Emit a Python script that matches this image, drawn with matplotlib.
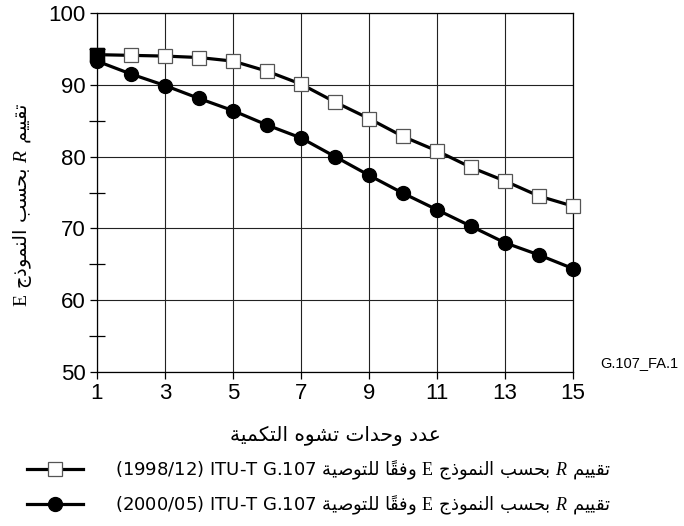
import matplotlib
matplotlib.use("Agg")
import matplotlib.pyplot as plt
from matplotlib.ticker import MultipleLocator

# ---------------- data ----------------
units = [1, 2, 3, 4, 5, 6, 7, 8, 9, 10, 11, 12, 13, 14, 15]
r_1998 = [94.2, 94.1, 94.0, 93.8, 93.3, 91.9, 90.1, 87.6, 85.3, 82.8, 80.8, 78.5, 76.6, 74.5, 73.1]
r_2000 = [93.3, 91.5, 89.9, 88.1, 86.4, 84.4, 82.6, 80.0, 77.4, 74.9, 72.6, 70.3, 68.0, 66.3, 64.4]
x_ticks = [1, 3, 5, 7, 9, 11, 13, 15]
y_ticks = [50, 60, 70, 80, 90, 100]

# ---------------- simple Arabic shaping (presentation forms) ----------------
FORMS = {
    'ا': ('\uFE8D', '\uFE8E'),
    'ب': ('\uFE8F', '\uFE90', '\uFE91', '\uFE92'),
    'ة': ('\uFE93', '\uFE94'),
    'ت': ('\uFE95', '\uFE96', '\uFE97', '\uFE98'),
    'ج': ('\uFE9D', '\uFE9E', '\uFE9F', '\uFEA0'),
    'ح': ('\uFEA1', '\uFEA2', '\uFEA3', '\uFEA4'),
    'د': ('\uFEA9', '\uFEAA'),
    'ذ': ('\uFEAB', '\uFEAC'),
    'س': ('\uFEB1', '\uFEB2', '\uFEB3', '\uFEB4'),
    'ش': ('\uFEB5', '\uFEB6', '\uFEB7', '\uFEB8'),
    'ص': ('\uFEB9', '\uFEBA', '\uFEBB', '\uFEBC'),
    'ع': ('\uFEC9', '\uFECA', '\uFECB', '\uFECC'),
    'ف': ('\uFED1', '\uFED2', '\uFED3', '\uFED4'),
    'ق': ('\uFED5', '\uFED6', '\uFED7', '\uFED8'),
    'ك': ('\uFED9', '\uFEDA', '\uFEDB', '\uFEDC'),
    'ل': ('\uFEDD', '\uFEDE', '\uFEDF', '\uFEE0'),
    'م': ('\uFEE1', '\uFEE2', '\uFEE3', '\uFEE4'),
    'ن': ('\uFEE5', '\uFEE6', '\uFEE7', '\uFEE8'),
    'ه': ('\uFEE9', '\uFEEA', '\uFEEB', '\uFEEC'),
    'و': ('\uFEED', '\uFEEE'),
    'ي': ('\uFEF1', '\uFEF2', '\uFEF3', '\uFEF4'),
}


def shape_word(word):
    letters = [i for i, c in enumerate(word) if c in FORMS]
    clusters = []
    for k, i in enumerate(letters):
        c = word[i]
        f = FORMS[c]
        prev_c = word[letters[k - 1]] if k > 0 else None
        next_c = word[letters[k + 1]] if k + 1 < len(letters) else None
        jp = prev_c is not None and len(FORMS[prev_c]) == 4
        jn = next_c is not None and len(f) == 4
        if jp and jn:
            g = f[3]
        elif jp:
            g = f[1]
        elif jn:
            g = f[2]
        else:
            g = f[0]
        end = letters[k + 1] if k + 1 < len(letters) else len(word)
        marks = word[i + 1:end]
        clusters.append(g + marks)
    return ''.join(reversed(clusters))


def is_arabic(tok):
    return any(c in FORMS for c in tok)


def rtl(tokens):
    return ' '.join(shape_word(t) if is_arabic(t) else t for t in reversed(tokens))


R = r'$\mathit{R}$'
E = r'$\mathrm{E}$'
ylabel_tokens = ['تقييم', R, 'بحسب', 'النموذج', E]
xlabel_tokens = ['عدد', 'وحدات', 'تشوه', 'التكمية']
leg1_tokens = ['تقييم', R, 'بحسب', 'النموذج', E, 'وفقاً', 'للتوصية', 'ITU-T G.107', '(1998/12)']
leg2_tokens = ['تقييم', R, 'بحسب', 'النموذج', E, 'وفقاً', 'للتوصية', 'ITU-T G.107', '(2000/05)']
fig_id = 'G.107_FA.1'

# ---------------- styling ----------------
plt.rcParams['mathtext.fontset'] = 'custom'
plt.rcParams['mathtext.rm'] = 'Liberation Serif'
plt.rcParams['mathtext.it'] = 'Liberation Serif:italic'
plt.rcParams['mathtext.bf'] = 'Liberation Serif:bold'

W, H = 684, 526
fig = plt.figure(figsize=(W / 100, H / 100), dpi=100)
ax = fig.add_axes([97 / W, 1 - 372 / H, (573 - 97) / W, (372 - 13) / H])

ax.set_xlim(1, 15)
ax.set_ylim(50, 100)
ax.set_xticks(x_ticks)
ax.set_yticks(y_ticks)
ax.yaxis.set_minor_locator(MultipleLocator(5))
ax.grid(True, which='major', color='#222222', linewidth=0.8)
for s in ax.spines.values():
    s.set_color('black')
    s.set_linewidth(0.9)
ax.tick_params(axis='both', which='major', direction='out', length=5, width=0.9,
               labelsize=16, pad=3)
ax.tick_params(axis='y', which='minor', direction='inout', length=11, width=0.9)
for lab in ax.get_xticklabels() + ax.get_yticklabels():
    lab.set_family('Liberation Sans')

line98, = ax.plot(units, r_1998, color='black', lw=2.3, marker='s', markersize=9.5,
                  markerfacecolor='white', markeredgecolor='#555555', markeredgewidth=0.9,
                  clip_on=False, zorder=3)
ax.plot(units[:1], r_1998[:1], ls='none', marker='s', markersize=9.5,
        markerfacecolor='black', markeredgecolor='black', clip_on=False, zorder=3)
line00, = ax.plot(units, r_2000, color='black', lw=2.3, marker='o', markersize=10,
                  markerfacecolor='black', markeredgecolor='black',
                  clip_on=False, zorder=4)

# axis labels
fig.text(23 / W, 1 - 205 / H, rtl(ylabel_tokens), rotation=90, ha='center', va='center',
         fontsize=14, family='DejaVu Sans')
fig.text(335 / W, 1 - 436 / H, rtl(xlabel_tokens), ha='center', va='center',
         fontsize=14.5, family='DejaVu Sans')
fig.text(600 / W, 1 - 363 / H, fig_id, ha='left', va='center', fontsize=10.5,
         family='Liberation Sans')

# legend
fig.legend([line98, line00], [rtl(leg1_tokens), rtl(leg2_tokens)],
           loc='upper left', bbox_to_anchor=(27 / W, 1 - 459 / H),
           frameon=False, numpoints=1, handlelength=3.1, handletextpad=1.75,
           labelspacing=0.65, borderpad=0, borderaxespad=0,
           prop={'family': 'DejaVu Sans', 'size': 13})

fig.savefig('out.png', dpi=100)
